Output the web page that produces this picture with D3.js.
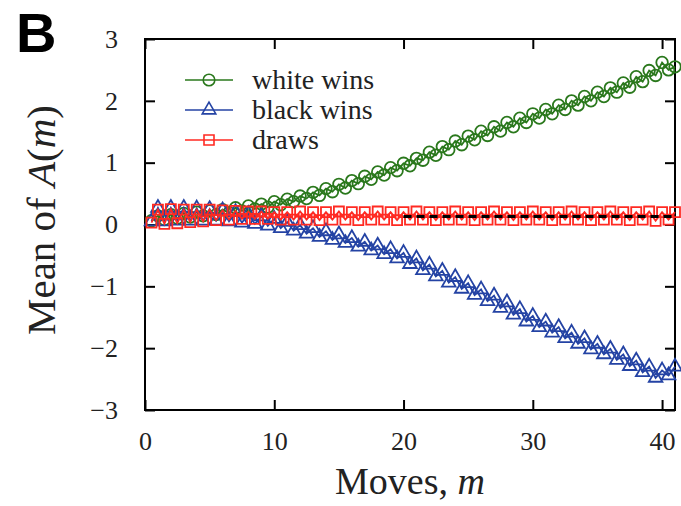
<!DOCTYPE html>
<html>
<head>
<meta charset="utf-8">
<script src="https://cdn.jsdelivr.net/npm/d3@7"></script>
<style>
  body { margin: 0; background: #fff; }
  text { font-family: "Liberation Serif", "Times New Roman", serif; }
</style>
</head>
<body>
<script>
// moves, one point per ply (half move)
var moves = [0.5, 1, 1.5, 2, 2.5, 3, 3.5, 4, 4.5, 5, 5.5, 6, 6.5, 7, 7.5, 8, 8.5, 9, 9.5, 10,
    10.5, 11, 11.5, 12, 12.5, 13, 13.5, 14, 14.5, 15, 15.5, 16, 16.5, 17, 17.5, 18, 18.5, 19, 19.5, 20,
    20.5, 21, 21.5, 22, 22.5, 23, 23.5, 24, 24.5, 25, 25.5, 26, 26.5, 27, 27.5, 28, 28.5, 29, 29.5, 30,
    30.5, 31, 31.5, 32, 32.5, 33, 33.5, 34, 34.5, 35, 35.5, 36, 36.5, 37, 37.5, 38, 38.5, 39, 39.5, 40,
    40.5, 41];

var whiteWins = [0.06, 0.14, 0.08, 0.16, 0.10, 0.18, 0.12, 0.20, 0.14, 0.22, 0.16, 0.24, 0.19, 0.27, 0.22, 0.30, 0.25, 0.33, 0.28, 0.37,
    0.32, 0.41, 0.37, 0.46, 0.42, 0.52, 0.47, 0.58, 0.53, 0.65, 0.59, 0.71, 0.66, 0.78, 0.73, 0.85, 0.80, 0.92, 0.87, 0.99,
    0.95, 1.07, 1.04, 1.17, 1.12, 1.26, 1.21, 1.35, 1.29, 1.43, 1.37, 1.51, 1.44, 1.58, 1.51, 1.65, 1.58, 1.72, 1.65, 1.79,
    1.72, 1.86, 1.79, 1.93, 1.86, 2.00, 1.93, 2.07, 2.00, 2.14, 2.07, 2.21, 2.14, 2.29, 2.22, 2.39, 2.31, 2.49, 2.41, 2.62,
    2.50, 2.55];

var blackWins = [0.05, 0.27, 0.05, 0.27, 0.06, 0.27, 0.06, 0.26, 0.06, 0.25, 0.06, 0.23, 0.05, 0.20, 0.03, 0.17, 0.01, 0.13, -0.02, 0.09,
    -0.06, 0.04, -0.10, -0.01, -0.15, -0.06, -0.20, -0.11, -0.25, -0.16, -0.30, -0.22, -0.36, -0.28, -0.42, -0.34, -0.48, -0.40, -0.55, -0.46,
    -0.64, -0.55, -0.74, -0.65, -0.84, -0.75, -0.94, -0.85, -1.04, -0.95, -1.14, -1.05, -1.24, -1.15, -1.35, -1.26, -1.46, -1.37, -1.57, -1.48,
    -1.66, -1.57, -1.75, -1.66, -1.84, -1.75, -1.93, -1.84, -2.02, -1.93, -2.10, -2.01, -2.19, -2.10, -2.29, -2.20, -2.39, -2.30, -2.48, -2.36,
    -2.44, -2.30];

var draws = [0.03, 0.24, 0.01, 0.25, 0.02, 0.24, 0.04, 0.24, 0.05, 0.24, 0.07, 0.23, 0.08, 0.22, 0.09, 0.21, 0.09, 0.21, 0.09, 0.20,
    0.08, 0.20, 0.08, 0.21, 0.08, 0.20, 0.07, 0.20, 0.08, 0.21, 0.08, 0.20, 0.07, 0.20, 0.08, 0.21, 0.08, 0.20, 0.07, 0.20,
    0.08, 0.21, 0.08, 0.20, 0.07, 0.20, 0.08, 0.21, 0.08, 0.20, 0.07, 0.20, 0.08, 0.21, 0.08, 0.20, 0.07, 0.20, 0.08, 0.21,
    0.08, 0.20, 0.07, 0.20, 0.08, 0.21, 0.08, 0.20, 0.07, 0.20, 0.08, 0.21, 0.08, 0.20, 0.07, 0.20, 0.08, 0.21, 0.06, 0.20,
    0.08, 0.20];

// black dashed reference level
var refMoves = [20, 41];
var refLevel = [0.13, 0.13];

var seriesNames = ["white wins", "black wins", "draws"];
var seriesColors = ["#2a781c", "#2443a4", "#ff2a22"];
var seriesSymbols = [d3.symbolCircle, d3.symbolTriangle, d3.symbolSquare];
var seriesSizes = [105, 80, 100];
var seriesValues = [whiteWins, blackWins, draws];

var xTicks = [0, 10, 20, 30, 40];
var yTicks = [-3, -2, -1, 0, 1, 2, 3];

var width = 681, height = 506;
var plot = { x0: 145, x1: 675, y0: 39, y1: 410 };

var svg = d3.select("body").append("svg")
    .attr("width", width)
    .attr("height", height);

var x = d3.scaleLinear().domain([0, 41]).range([plot.x0, plot.x1]);
var y = d3.scaleLinear().domain([-3, 3]).range([plot.y1, plot.y0]);

// axes with inward ticks
var gx = svg.append("g")
    .attr("transform", "translate(0," + plot.y1 + ")")
    .call(d3.axisBottom(x).tickValues(xTicks).tickSize(-10).tickPadding(22).tickFormat(d3.format("d")));
var gy = svg.append("g")
    .attr("transform", "translate(" + plot.x0 + ",0)")
    .call(d3.axisLeft(y).tickValues(yTicks).tickSize(-10).tickPadding(27).tickFormat(d3.format("d")));
var gt = svg.append("g")
    .attr("transform", "translate(0," + plot.y0 + ")")
    .call(d3.axisTop(x).tickValues(xTicks).tickSize(-10).tickFormat(""));
var gr = svg.append("g")
    .attr("transform", "translate(" + plot.x1 + ",0)")
    .call(d3.axisRight(y).tickValues(yTicks).tickSize(-10).tickFormat(""));

[gx, gy, gt, gr].forEach(function(g) {
    g.select(".domain").remove();
    g.selectAll("line").attr("stroke", "#000").attr("stroke-width", 2);
    g.selectAll("text")
        .attr("fill", "#222")
        .style("font-family", "Liberation Serif")
        .style("font-size", "26px");
});

svg.append("rect")
    .attr("x", plot.x0)
    .attr("y", plot.y0)
    .attr("width", plot.x1 - plot.x0)
    .attr("height", plot.y1 - plot.y0)
    .attr("fill", "none")
    .attr("stroke", "#000")
    .attr("stroke-width", 2);

var line = d3.line()
    .x(function(d) { return x(d[0]); })
    .y(function(d) { return y(d[1]); });

seriesValues.forEach(function(vals, k) {
    var pts = moves.map(function(m, i) { return [m, vals[i]]; });
    var g = svg.append("g");
    g.append("path")
        .datum(pts)
        .attr("d", line)
        .attr("fill", "none")
        .attr("stroke", seriesColors[k])
        .attr("stroke-width", 1.8);
    g.selectAll("path.mark")
        .data(pts)
        .enter()
        .append("path")
        .attr("class", "mark")
        .attr("d", d3.symbol().type(seriesSymbols[k]).size(seriesSizes[k]))
        .attr("transform", function(d) {
            return "translate(" + x(d[0]) + "," + y(d[1]) + ")";
        })
        .attr("fill", "none")
        .attr("stroke", seriesColors[k])
        .attr("stroke-width", 1.8);
});

svg.append("path")
    .datum(refMoves.map(function(m, i) { return [m, refLevel[i]]; }))
    .attr("d", line)
    .attr("fill", "none")
    .attr("stroke", "#000")
    .attr("stroke-width", 3)
    .attr("stroke-dasharray", "8,5");

// legend
var legend = svg.append("g");
seriesNames.forEach(function(name, k) {
    var ly = 80 + k * 30;
    legend.append("line")
        .attr("x1", 185).attr("x2", 233)
        .attr("y1", ly).attr("y2", ly)
        .attr("stroke", seriesColors[k])
        .attr("stroke-width", 1.5);
    legend.append("path")
        .attr("d", d3.symbol().type(seriesSymbols[k]).size(seriesSizes[k]))
        .attr("transform", "translate(209," + ly + ")")
        .attr("fill", "none")
        .attr("stroke", seriesColors[k])
        .attr("stroke-width", 1.6);
    legend.append("text")
        .attr("x", 252)
        .attr("y", ly + 9)
        .attr("fill", "#222")
        .style("font-size", "28px")
        .text(name);
});

// axis titles
var xt = svg.append("text")
    .attr("x", 410)
    .attr("y", 494)
    .attr("text-anchor", "middle")
    .attr("fill", "#222")
    .style("font-size", "38px");
xt.append("tspan").text("Moves, ");
xt.append("tspan").style("font-style", "italic").text("m");

var yt = svg.append("text")
    .attr("transform", "translate(55,220) rotate(-90)")
    .attr("text-anchor", "middle")
    .attr("fill", "#222")
    .style("font-size", "41px");
yt.append("tspan").text("Mean of ");
yt.append("tspan").style("font-style", "italic").text("A");
yt.append("tspan").text("(");
yt.append("tspan").style("font-style", "italic").text("m");
yt.append("tspan").text(")");

// panel label
svg.append("text")
    .attr("x", 16)
    .attr("y", 52)
    .style("font-family", "Liberation Sans")
    .style("font-weight", "bold")
    .style("font-size", "56px")
    .attr("fill", "#000")
    .text("B");
</script>
</body>
</html>
